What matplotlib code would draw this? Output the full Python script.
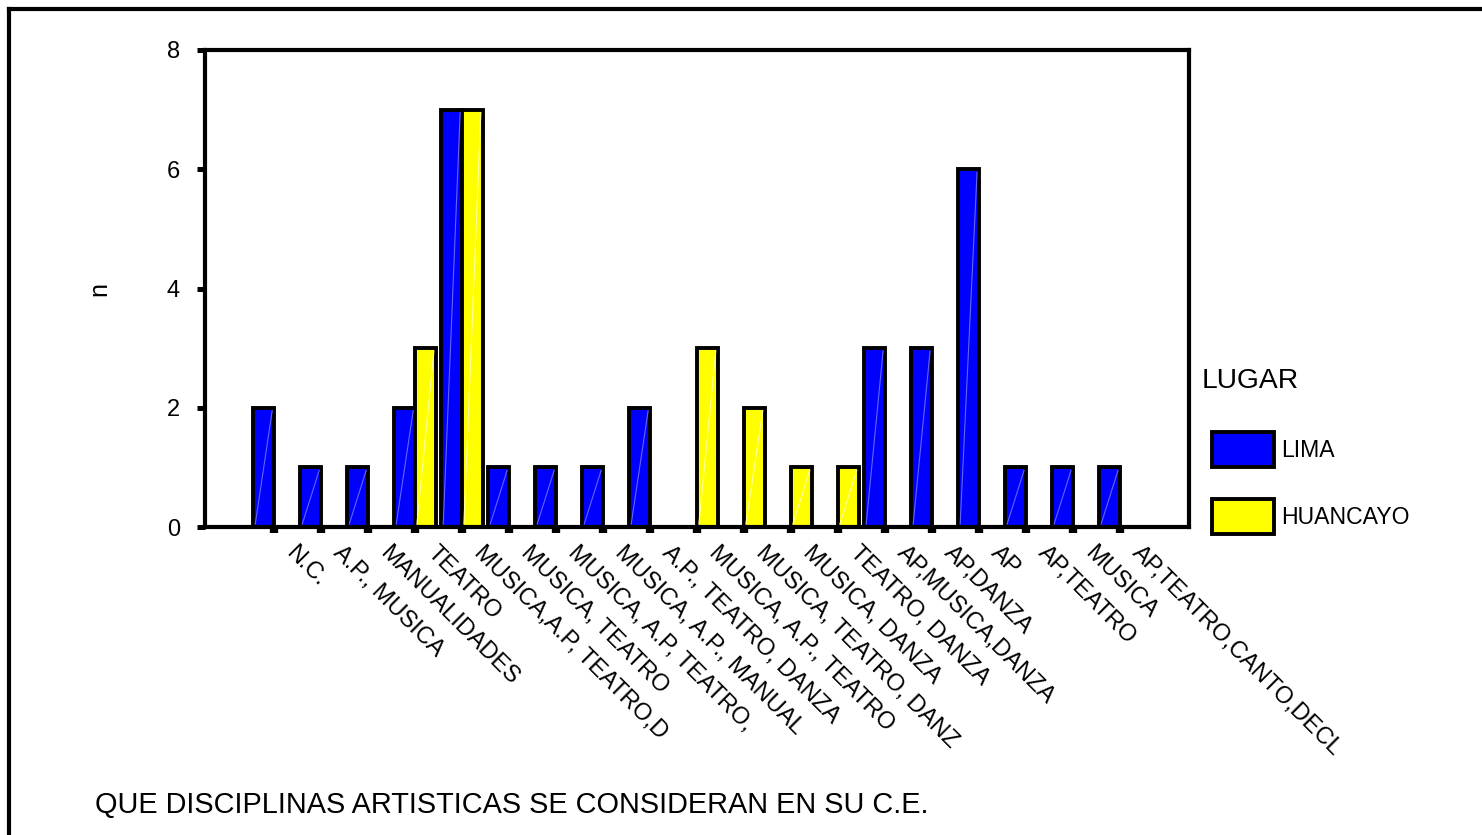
import matplotlib
matplotlib.use('Agg')
import matplotlib.pyplot as plt
from matplotlib.lines import Line2D
from matplotlib.transforms import ScaledTranslation
import numpy as np

plt.rcParams['font.family'] = ['Liberation Sans', 'DejaVu Sans']

categorias = ['N.C.', 'A.P., MUSICA', 'MANUALIDADES', 'TEATRO',
              'MUSICA,A.P, TEATRO,D', 'MUSICA, TEATRO', 'MUSICA, A.P, TEATRO,',
              'MUSICA, A.P., MANUAL', 'A.P., TEATRO, DANZA', 'MUSICA, A.P., TEATRO',
              'MUSICA, TEATRO, DANZ', 'MUSICA, DANZA', 'TEATRO, DANZA',
              'AP,MUSICA,DANZA', 'AP,DANZA', 'AP', 'AP,TEATRO', 'MUSICA',
              'AP,TEATRO,CANTO,DECL']
lima = [2, 1, 1, 2, 7, 1, 1, 1, 2, 0, 0, 0, 0, 3, 3, 6, 1, 1, 1]
huancayo = [0, 0, 0, 3, 7, 0, 0, 0, 0, 3, 2, 1, 1, 0, 0, 0, 0, 0, 0]
series = [('LIMA', lima, '#0000ff', '#6464ff'),
          ('HUANCAYO', huancayo, '#ffff00', '#ffffa0')]

W, H = 1482, 835
fig = plt.figure(figsize=(W / 100, H / 100), dpi=100)
fig.patch.set_facecolor('white')
ax = fig.add_axes([205 / W, 1 - 527 / H, (1189 - 205) / W, (527 - 50) / H])

x = np.arange(len(categorias))
w = 0.44
handles = []
for i, (nombre, vals, col, luz) in enumerate(series):
    vals = np.array(vals)
    idx = vals > 0
    pos = x[idx] + (i - 0.5) * w
    b = ax.bar(pos, vals[idx], width=w, color=col, edgecolor='black',
               linewidth=2.8, label=nombre, zorder=2)
    handles.append(b)
    # thin diagonal highlight in each bar, like the original export
    for p, v in zip(pos, vals[idx]):
        ax.plot([p - w / 2 + 0.04, p + w / 2 - 0.04], [0.05, v - 0.05],
                color=luz, lw=0.8, zorder=3)

ax.set_xlim(-1.47, len(categorias) - 1 + 1.47)
ax.set_ylim(0, 8)
ax.set_yticks([0, 2, 4, 6, 8])
ax.set_xticks(x)
ax.set_xticklabels([])

ax.tick_params(axis='y', direction='out', length=6, width=3.6, pad=12,
               labelsize=17)
ax.tick_params(axis='x', direction='out', length=4, width=6)
for s in ax.spines.values():
    s.set_linewidth(3)
ax.set_ylabel('n', fontsize=18, labelpad=40)

# rotated category labels, hanging from each tick
off = ScaledTranslation(23 / 100, -15 / 100, fig.dpi_scale_trans)
for k, lab in zip(x, categorias):
    ax.text(k, 0, lab, transform=ax.get_xaxis_transform() + off,
            rotation=-45, rotation_mode='anchor', ha='left', va='top',
            fontsize=17, clip_on=False)

fig.text(1202 / W, 1 - 381 / H, 'LUGAR', fontsize=20.3, va='center', ha='left')
leg = ax.legend(handles=handles, loc='upper left',
                bbox_to_anchor=(1212 / W, 1 - 432 / H),
                bbox_transform=fig.transFigure, frameon=False, fontsize=16.6,
                borderpad=0, borderaxespad=0,
                handlelength=2.7, handleheight=1.95, labelspacing=1.4,
                handletextpad=0.3)

fig.text(95 / W, 1 - 805 / H, 'QUE DISCIPLINAS ARTISTICAS SE CONSIDERAN EN SU C.E.',
         fontsize=20.8, va='center', ha='left')

# outer frame (only top and left edges fall inside the image)
fig.add_artist(Line2D([9 / W, 1.0], [1 - 9 / H, 1 - 9 / H], color='black',
                      lw=3, transform=fig.transFigure))
fig.add_artist(Line2D([9 / W, 9 / W], [1 - 9 / H, 0.0], color='black',
                      lw=3, transform=fig.transFigure))

fig.savefig('out.png', dpi=100)
